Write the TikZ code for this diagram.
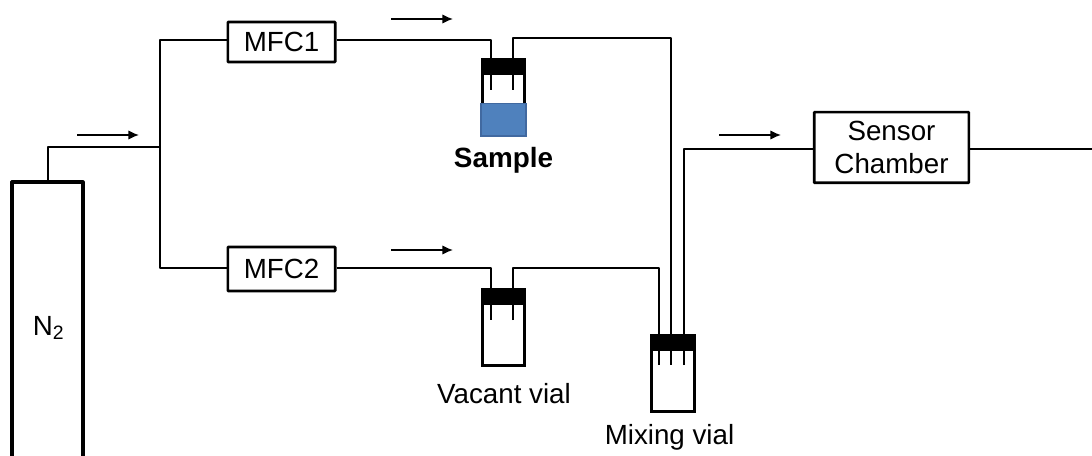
\documentclass[tikz,border=0pt]{standalone}
\usepackage{fontspec}
\setmainfont{Liberation Sans}
\usetikzlibrary{arrows.meta,positioning}
\definecolor{liquid}{RGB}{79,129,189}
\definecolor{liquidedge}{RGB}{65,105,160}
\tikzset{
  tube/.style={line width=1.8pt,line join=round},
  flow/.style={line width=1pt,-{Latex[length=8pt,width=7pt]}},
  unit/.style={draw,line width=2pt,rounded corners=0.5pt,inner sep=0pt,align=center,font=\fontsize{20.8}{25}\selectfont},
  vial/.style={draw,line width=2.3pt,minimum width=32pt,minimum height=57pt,inner sep=0pt},
  vialcap/.style={fill=black,draw,line width=1pt,minimum width=33pt,minimum height=12pt,inner sep=0pt},
  caption/.style={inner sep=0pt,font=\fontsize{20.8}{25}\selectfont}
}
\begin{document}
\begin{tikzpicture}[x=0.75pt,y=-0.75pt]
\useasboundingbox (0,0) rectangle (1092,456);

% gas cylinder
\draw[tube,line width=2.4pt] (12,456)--(12,182)--(83,182)--(83,456);
\node[inner sep=0pt,font=\fontsize{20.8}{25}\selectfont] (nitrogen) at (48.5,328) {N\textsubscript{2}};
\coordinate (cylinderout) at (48,182);

% units
\node[unit,minimum width=80.5pt,minimum height=30pt] (mfcA) at (281.5,42) {MFC1};
\node[unit,minimum width=80.5pt,minimum height=33pt] (mfcB) at (281.5,269) {MFC2};
\node[unit,minimum width=116pt,minimum height=53pt] (chamber) at (891.5,147.5) {Sensor\\Chamber};

% vials
\node[vial,anchor=north] (samplevial) at (503.5,58) {};
\fill[fill=liquid,draw=liquidedge,line width=0.8pt] (481,103.5) rectangle (526,136);
\node[vialcap,anchor=north] (samplecap) at (503.5,58) {};
\node[vial,anchor=north] (vacantvial) at (503.5,288) {};
\node[vialcap,anchor=north] (vacantcap) at (503.5,288) {};
\node[vial,anchor=north] (mixvial) at (673,334) {};
\node[vialcap,anchor=north] (mixcap) at (673,334) {};

\node[caption,font=\fontsize{20.9}{25}\selectfont\bfseries] (samplelabel) at (503.5,160) {Sample};
\node[caption] (vacantlabel) at (504,394) {Vacant vial};
\node[caption] (mixlabel) at (669.5,437) {Mixing vial};

% junctions
\coordinate (split) at (160,147);
\coordinate (branchA) at (160,40);
\coordinate (branchB) at (160,268);
\coordinate (inA) at (491,40);
\coordinate (inB) at (491,268);
\coordinate (exit) at (1092,149);

% tubes
\draw[tube] (cylinderout)--(48,147)--(split);
\draw[tube] (mfcA.west|-branchA)--(branchA)--(branchB)--(mfcB.west|-branchB);
\draw[tube] (mfcA.east|-inA)--(inA)--(491,90);
\draw[tube] (513,90)--(513,38)--(671,38)--(671,365);
\draw[tube] (mfcB.east|-inB)--(inB)--(491,320);
\draw[tube] (513,320)--(513,268)--(659,268)--(659,365);
\draw[tube] (684,365)--(684,149)--(chamber.west|-exit);
\draw[tube] (chamber.east|-exit)--(exit);

% flow directions
\draw[flow] (77,135)--(139,135);
\draw[flow] (391,19)--(453,19);
\draw[flow] (391,250)--(453,250);
\draw[flow] (719,135)--(781,135);
\end{tikzpicture}
\end{document}
